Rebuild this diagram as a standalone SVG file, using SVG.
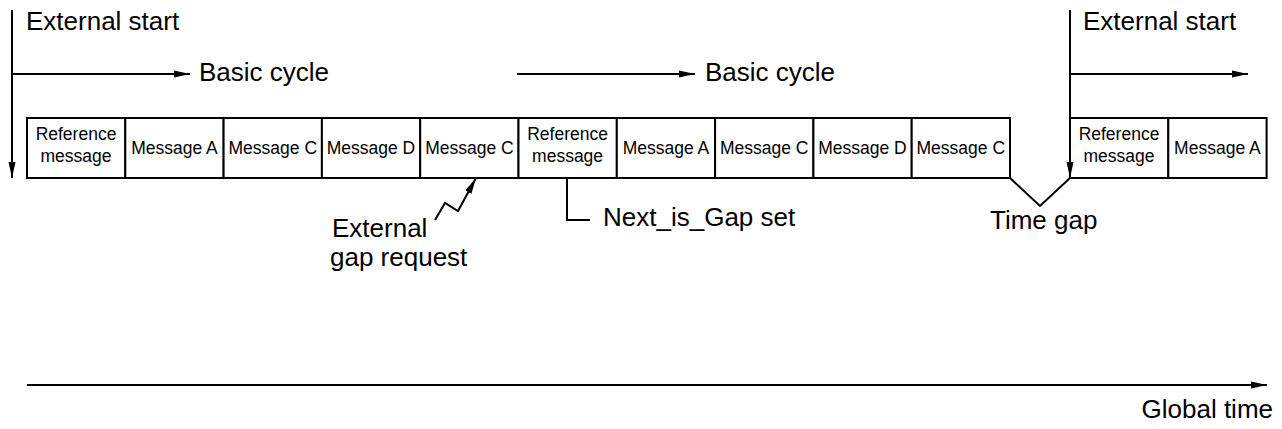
<svg xmlns="http://www.w3.org/2000/svg" width="1282" height="429" viewBox="0 0 1282 429">
  <style>
    .ln { stroke: #000; stroke-width: 2; fill: none; }
    .box { stroke: #000; stroke-width: 2; fill: #fff; }
    .lbl { font-family: "Liberation Sans", Arial, sans-serif; font-size: 26px; fill: #000; }
    .bt { font-family: "Liberation Sans", Arial, sans-serif; font-size: 17.5px; fill: #000; text-anchor: middle; }
  </style>
  <defs>
    <marker id="arr" markerUnits="userSpaceOnUse" markerWidth="16" markerHeight="8" refX="16" refY="4" orient="auto">
      <path d="M0,0.5 L16,4 L0,7.5 Z" fill="#000"/>
    </marker>
  </defs>

  <!-- message slots, first run -->
  <g id="slot-ref1"><rect class="box" x="27" y="118" width="98.3" height="60"/><text class="bt" x="76" y="140">Reference</text><text class="bt" x="76" y="162">message</text></g>
  <g id="slot-a1"><rect class="box" x="125.3" y="118" width="98.3" height="60"/><text class="bt" x="174.5" y="154">Message A</text></g>
  <g id="slot-c1"><rect class="box" x="223.6" y="118" width="98.3" height="60"/><text class="bt" x="272.8" y="154">Message C</text></g>
  <g id="slot-d1"><rect class="box" x="321.9" y="118" width="98.3" height="60"/><text class="bt" x="371" y="154">Message D</text></g>
  <g id="slot-c2"><rect class="box" x="420.2" y="118" width="98.3" height="60"/><text class="bt" x="469.4" y="154">Message C</text></g>
  <!-- second run -->
  <g id="slot-ref2"><rect class="box" x="518.5" y="118" width="98.3" height="60"/><text class="bt" x="567.6" y="140">Reference</text><text class="bt" x="567.6" y="162">message</text></g>
  <g id="slot-a2"><rect class="box" x="616.8" y="118" width="98.3" height="60"/><text class="bt" x="666" y="154">Message A</text></g>
  <g id="slot-c3"><rect class="box" x="715.1" y="118" width="98.3" height="60"/><text class="bt" x="764.2" y="154">Message C</text></g>
  <g id="slot-d2"><rect class="box" x="813.4" y="118" width="98.3" height="60"/><text class="bt" x="862.5" y="154">Message D</text></g>
  <g id="slot-c4"><rect class="box" x="911.7" y="118" width="98.3" height="60"/><text class="bt" x="960.8" y="154">Message C</text></g>
  <!-- third run after the gap -->
  <g id="slot-ref3"><rect class="box" x="1070" y="118" width="98.3" height="60"/><text class="bt" x="1119" y="140">Reference</text><text class="bt" x="1119" y="162">message</text></g>
  <g id="slot-a3"><rect class="box" x="1168.3" y="118" width="98.3" height="60"/><text class="bt" x="1217.4" y="154">Message A</text></g>

  <!-- connectors -->
  <g id="connectors">
    <line class="ln" x1="12" y1="10" x2="12" y2="178" marker-end="url(#arr)"/>
    <line class="ln" x1="12" y1="74" x2="190" y2="74" marker-end="url(#arr)"/>
    <line class="ln" x1="517" y1="74" x2="695" y2="74" marker-end="url(#arr)"/>
    <line class="ln" x1="1070" y1="10" x2="1070" y2="178" marker-end="url(#arr)"/>
    <line class="ln" x1="1070" y1="74" x2="1248" y2="74" marker-end="url(#arr)"/>
    <polyline class="ln" points="435,220 445,203 458,211 476,178" marker-end="url(#arr)"/>
    <polyline class="ln" points="567,178 567,220 590,220"/>
    <polyline class="ln" points="1010,178 1040,206 1070,178"/>
    <line class="ln" x1="27" y1="385" x2="1267" y2="385" stroke-width="2.5" marker-end="url(#arr)"/>
  </g>

  <!-- labels -->
  <g id="labels">
    <text class="lbl" x="26" y="30">External start</text>
    <text class="lbl" x="199" y="81">Basic cycle</text>
    <text class="lbl" x="705" y="81">Basic cycle</text>
    <text class="lbl" x="1083" y="30">External start</text>
    <text class="lbl" x="332" y="237">External</text>
    <text class="lbl" x="330" y="266">gap request</text>
    <text class="lbl" x="603" y="226">Next_is_Gap set</text>
    <text class="lbl" x="990" y="229">Time gap</text>
    <text class="lbl" x="1273" y="418" text-anchor="end">Global time</text>
  </g>
</svg>
